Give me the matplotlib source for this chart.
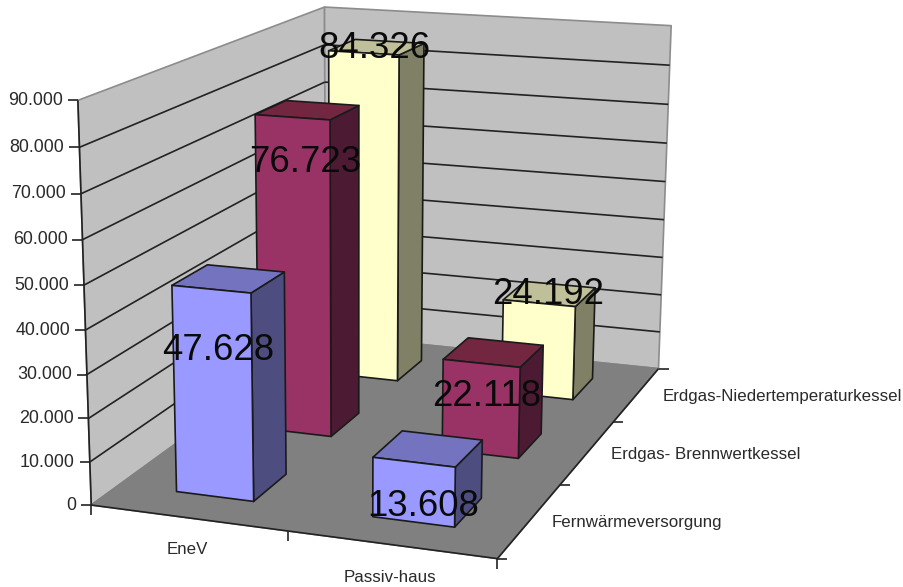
import numpy as np
import matplotlib
matplotlib.use("Agg")
import matplotlib.pyplot as plt
from matplotlib.patches import Polygon

# ── Data ───────────────────────────────────────────────────────
categories = ["EneV", "Passiv-haus"]
series_names = ["Fernwärmeversorgung", "Erdgas- Brennwertkessel", "Erdgas-Niedertemperaturkessel"]
fernwaerme = [47628, 13608]
brennwert = [76723, 22118]
niedertemp = [84326, 24192]
z_ticks = [0, 10000, 20000, 30000, 40000, 50000, 60000, 70000, 80000, 90000]

# ── Layout ─────────────────────────────────────────────────────
W, H = 904, 587
Z_MAX = 90000
BAR_W = 0.4         # share of a category slot
BAR_D = 0.4         # share of a series slot
LABEL_POS = {
    (0, 0): (218, 350), (1, 0): (423, 507),
    (0, 1): (305, 162), (1, 1): (487, 397),
    (0, 2): (374, 49),  (1, 2): (548, 295),
}
CAT_LABEL_POS = [(187, 549), (390, 577)]
SERIES_LABEL_POS = [(637, 522), (706, 454), (782, 396)]

# (face, top, side) colours per series
COLORS = [("#9999FF", "#7373BF", "#4D4D80"),
          ("#993366", "#732640", "#4D1A33"),
          ("#FFFFCC", "#BFBF99", "#808066")]
EDGE = "#1a1a1a"

# Frame corners on screen, used to fit the camera matrix
world = [(0, 0, 0), (2, 0, 0), (2, 3, 0), (0, 3, 0),
         (0, 0, Z_MAX), (2, 3, Z_MAX), (0, 3, Z_MAX)]
screen = [(92, 505), (497, 559), (659, 368), (325, 335),
          (77.5, 100), (671, 26), (325, 7)]


def fit_camera(world, screen):
    rows, rhs = [], []
    for (x, y, z), (u, v) in zip(world, screen):
        z = z / Z_MAX
        rows.append([x, y, z, 1, 0, 0, 0, 0, -u * x, -u * y, -u * z])
        rhs.append(u)
        rows.append([0, 0, 0, 0, x, y, z, 1, -v * x, -v * y, -v * z])
        rhs.append(v)
    p = np.linalg.lstsq(np.array(rows, float), np.array(rhs, float), rcond=None)[0]
    return np.append(p, 1).reshape(3, 4)


CAM = fit_camera(world, screen)


def project(x, y, z):
    u, v, w = CAM @ np.array([x, y, z / Z_MAX, 1.0])
    return u / w, v / w


plt.rcParams["font.family"] = ["Liberation Sans", "DejaVu Sans"]
fig = plt.figure(figsize=(W / 100, H / 100), dpi=100)
ax = fig.add_axes([0, 0, 1, 1])
ax.set_xlim(0, W)
ax.set_ylim(H, 0)
ax.axis("off")


def face(points, color, edge=EDGE, lw=1.2, z=2):
    ax.add_patch(Polygon([project(*p) for p in points], closed=True, facecolor=color,
                         edgecolor=edge, linewidth=lw, zorder=z, joinstyle="round"))


def seg(p0, p1, color="#222222", lw=1.2, z=1.5):
    ax.plot([p0[0], p1[0]], [p0[1], p1[1]], color=color, lw=lw, zorder=z, solid_capstyle="butt")


# walls and floor
face([(0, 0, 0), (0, 3, 0), (0, 3, Z_MAX), (0, 0, Z_MAX)], "#C0C0C0", edge="#8c8c8c", z=1)
face([(0, 3, 0), (2, 3, 0), (2, 3, Z_MAX), (0, 3, Z_MAX)], "#C0C0C0", edge="#8c8c8c", z=1)
face([(0, 0, 0), (2, 0, 0), (2, 3, 0), (0, 3, 0)], "#808080", edge="#808080", z=1.2)

# gridlines on both walls
for t in z_ticks[1:-1]:
    seg(project(0, 0, t), project(0, 3, t))
    seg(project(0, 3, t), project(2, 3, t))

# value axis with ticks and labels
seg(project(0, 0, 0), project(0, 0, Z_MAX))
for t in z_ticks:
    u, v = project(0, 0, t)
    seg((u - 10, v), (u, v))
    label = "0" if t == 0 else f"{t:,}".replace(",", ".")
    ax.text(u - 15, v, label, ha="right", va="center", fontsize=12.9, color="#2a2a2a", zorder=5)

# category axis along the front edge
seg(project(0, 0, 0), project(2, 0, 0))
for i in range(3):
    u, v = project(i, 0, 0)
    seg((u, v), (u, v + 10))
for name, (u, v) in zip(categories, CAT_LABEL_POS):
    ax.text(u, v, name, ha="center", va="center", fontsize=12.2, color="#2a2a2a", zorder=5)

# series axis along the right edge
seg(project(2, 0, 0), project(2, 3, 0))
for i in range(4):
    u, v = project(2, i, 0)
    seg((u, v), (u + 10, v))
for name, (u, v) in zip(series_names, SERIES_LABEL_POS):
    ax.text(u, v, name, ha="center", va="center", fontsize=12.2, color="#2a2a2a", zorder=5)

# bars, back row first so the nearer ones cover it
all_values = [fernwaerme, brennwert, niedertemp]
order = 10
for s in [2, 1, 0]:
    y0, y1 = s + 0.5 - BAR_D / 2, s + 0.5 + BAR_D / 2
    for c, val in enumerate(all_values[s]):
        x0, x1 = c + 0.5 - BAR_W / 2, c + 0.5 + BAR_W / 2
        col, top, side = COLORS[s]
        face([(x1, y0, 0), (x1, y1, 0), (x1, y1, val), (x1, y0, val)], side, z=order)
        face([(x0, y0, val), (x1, y0, val), (x1, y1, val), (x0, y1, val)], top, z=order)
        face([(x0, y0, 0), (x1, y0, 0), (x1, y0, val), (x0, y0, val)], col, z=order)
        u, v = LABEL_POS[(c, s)]
        ax.text(u, v, f"{val:,}".replace(",", "."), ha="center", va="center",
                fontsize=26.3, color="#0a0a0a", zorder=50)
        order += 1

fig.savefig("out.png", dpi=100)
